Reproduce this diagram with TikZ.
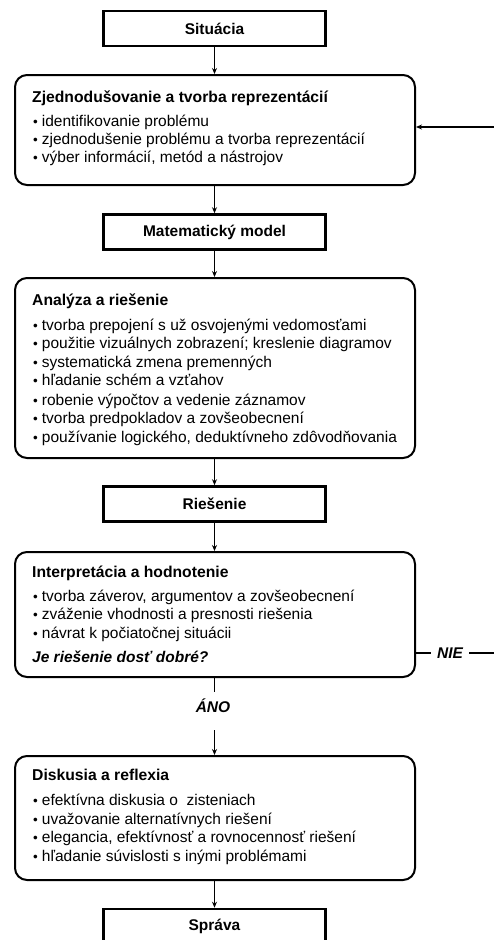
\documentclass[tikz,border=0pt]{standalone}
\usepackage{fontspec}
\setmainfont{Liberation Sans}
\usetikzlibrary{arrows.meta}
\newcommand{\blt}{{\fontsize{13.5}{13.5}\selectfont\textbullet}\hspace{4pt}}
\tikzset{
  sbox/.style={draw, line width=2.6pt, minimum width=222pt, minimum height=35pt, inner sep=0pt, font=\fontsize{15.5}{18}\selectfont\bfseries},
  rbox/.style={draw, line width=2pt, rounded corners=12pt, minimum width=400pt, inner sep=0pt},
  head/.style={anchor=base west, inner sep=0pt, font=\fontsize{15.7}{18}\selectfont\bfseries},
  item/.style={anchor=base west, inner sep=0pt, font=\fontsize{15.5}{18}\selectfont},
  conn/.style={line width=1.6pt},
  arr/.style={conn, -{Stealth[length=6pt,width=5pt]}},
  lab/.style={inner sep=0pt, font=\fontsize{15.5}{18}\selectfont\bfseries\itshape}
}
\begin{document}
\begin{tikzpicture}[x=1pt,y=-1pt]
\useasboundingbox (0,0) rectangle (494,940);
\begin{scope}
\clip (0,0) rectangle (494,940);
% boxes
\node[sbox] (sit) at (214.5,28.5) {Situácia};
\node[rbox, minimum height=110pt] (zj) at (215,130) {};
\node[sbox] (mm) at (214.5,232) {Matematický model};
\node[rbox, minimum height=180pt] (an) at (215,368) {};
\node[sbox] (rie) at (214.5,504) {Riešenie};
\node[rbox, minimum height=125pt] (int) at (215,614.5) {};
\node[rbox, minimum height=124pt] (dis) at (215,818) {};
\node[sbox, minimum height=36pt] (spr) at (214.5,927) {};
\node[inner sep=0pt, font=\fontsize{15.5}{18}\selectfont\bfseries, anchor=base] (sprt) at (214.5,930) {Správa};

% texts box 1
\node[head] (zjh) at (32,102) {Zjednodušovanie a tvorba reprezentácií};
\node[item] (zj1) at (33,126) {\blt identifikovanie problému};
\node[item] (zj2) at (33,144) {\blt zjednodušenie problému a tvorba reprezentácií};
\node[item] (zj3) at (33,162) {\blt výber informácií, metód a nástrojov};

% texts box 2
\node[head] (anh) at (32,305) {Analýza a riešenie};
\node[item] (an1) at (33,330) {\blt tvorba prepojení s už osvojenými vedomosťami};
\node[item] (an2) at (33,348.5) {\blt použitie vizuálnych zobrazení; kreslenie diagramov};
\node[item] (an3) at (33,367) {\blt systematická zmena premenných};
\node[item] (an4) at (33,385.5) {\blt hľadanie schém a vzťahov};
\node[item] (an5) at (33,405) {\blt robenie výpočtov a vedenie záznamov};
\node[item] (an6) at (33,423.5) {\blt tvorba predpokladov a zovšeobecnení};
\node[item] (an7) at (33,442) {\blt používanie logického, deduktívneho zdôvodňovania};

% texts box 3
\node[head] (inth) at (32,577) {Interpretácia a hodnotenie};
\node[item] (int1) at (33,601) {\blt tvorba záverov, argumentov a zovšeobecnení};
\node[item] (int2) at (33,619.5) {\blt zváženie vhodnosti a presnosti riešenia};
\node[item] (int3) at (33,638) {\blt návrat k počiatočnej situácii};
\node[item, font=\fontsize{15.5}{18}\selectfont\bfseries\itshape] (intq) at (32,662) {Je riešenie dosť dobré?};

% texts box 4
\node[head] (dish) at (32,780) {Diskusia a reflexia};
\node[item] (dis1) at (33,805) {\blt efektívna diskusia o\ \ zisteniach};
\node[item] (dis2) at (33,824) {\blt uvažovanie alternatívnych riešení};
\node[item] (dis3) at (33,842) {\blt elegancia, efektívnosť a rovnocennosť riešení};
\node[item] (dis4) at (33,861) {\blt hľadanie súvislosti s inými problémami};

% labels
\node[lab] (ano) at (213,706) {ÁNO};
\node[lab] (nie) at (450,653) {NIE};
\coordinate (rin) at (494,127);
\coordinate (rout) at (494,653);
\coordinate (anotop) at (214.5,692);
\coordinate (anobot) at (214.5,730);

% connectors
\draw[arr] (sit.south) -- (sit.south |- zj.north);
\draw[arr] (zj.south -| mm.north) -- (mm.north);
\draw[arr] (mm.south) -- (mm.south |- an.north);
\draw[arr] (an.south -| rie.north) -- (rie.north);
\draw[arr] (rie.south) -- (rie.south |- int.north);
\draw[conn] (int.south -| anotop) -- (anotop);
\draw[arr] (anobot) -- (anobot |- dis.north);
\draw[arr] (dis.south -| spr.north) -- (spr.north);
\draw[arr] (rin) -- (rin -| zj.east);
\draw[conn] (nie.west -| int.east) ++(-1,0) -- ([xshift=-6pt]nie.west);
\draw[conn] ([xshift=6pt]nie.east) -- (rout);
\end{scope}
\end{tikzpicture}
\end{document}
